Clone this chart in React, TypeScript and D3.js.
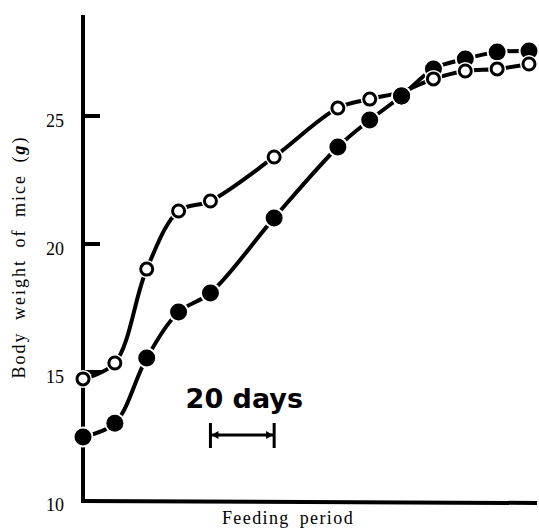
import React from "react";
import * as d3 from "d3";

const days = [0, 10, 20, 30, 40, 60, 80, 90, 100, 110, 120, 130, 140];
const openSeries = [14.73, 15.35, 19.02, 21.29, 21.68, 23.4, 25.31, 25.66, 25.94, 26.45, 26.76, 26.84, 27.03];
const filledSeries = [12.46, 13.0, 15.55, 17.34, 18.09, 21.02, 23.79, 24.84, 25.78, 26.84, 27.23, 27.5, 27.54];
const yTicks = [10, 15, 20, 25];
const scaleBarDays = [40, 60];
const scaleBarLabel = "20 days";
const xLabel = "Feeding period";

const W = 539;
const H = 532;

export default function App() {
  const x = d3.scaleLinear().domain([0, 140]).range([83, 529]);
  const y = d3.scaleLinear().domain([10, 25]).range([500, 116]);
  const line = d3
    .line<number>()
    .x((_, i) => x(days[i]))
    .y((v) => y(v))
    .curve(d3.curveCatmullRom.alpha(0.5));

  const bx0 = x(scaleBarDays[0]);
  const bx1 = x(scaleBarDays[1]);
  const by = 435;

  return (
    <svg
      width={W}
      height={H}
      style={{ position: "absolute", left: 0, top: 0, background: "#fff" }}
    >
      <rect x={0} y={0} width={W} height={H} fill="#fff" />
      {/* axes */}
      <line x1={83} y1={15} x2={83} y2={502} stroke="#000" strokeWidth={4} />
      <line x1={81} y1={501} x2={537} y2={503} stroke="#000" strokeWidth={4} />
      {yTicks.map((t) => (
        <g key={t}>
          {t !== 10 && (
            <line x1={83} x2={t === 15 ? 102 : 100} y1={y(t)} y2={y(t)} stroke="#000" strokeWidth={4} />
          )}
          <text
            x={64}
            y={y(t) + 11}
            textAnchor="end"
            fontFamily="Liberation Serif"
            fontSize={18}
            fill="#000"
          >
            {t}
          </text>
        </g>
      ))}
      {/* y label */}
      <text
        transform={`translate(25,257) rotate(-90)`}
        textAnchor="middle"
        fontFamily="Liberation Serif"
        fontSize={18}
        letterSpacing={2}
        wordSpacing={5}
        fill="#000"
      >
        Body weight of mice (<tspan fontStyle="italic" fontWeight="bold">g</tspan>)
      </text>
      {/* x label */}
      <text
        x={288}
        y={524}
        textAnchor="middle"
        fontFamily="Liberation Serif"
        fontSize={18}
        letterSpacing={1.4}
        wordSpacing={4}
        fill="#000"
      >
        {xLabel}
      </text>
      {/* series lines */}
      <path d={line(openSeries) || ""} fill="none" stroke="#000" strokeWidth={4} />
      <path d={line(filledSeries) || ""} fill="none" stroke="#000" strokeWidth={4} />
      {/* markers */}
      {filledSeries.map((v, i) => (
        <g key={"f" + i}>
          <circle cx={x(days[i])} cy={y(v)} r={10.5} fill="#fff" />
          <circle cx={x(days[i])} cy={y(v)} r={8.5} fill="#000" />
        </g>
      ))}
      {openSeries.map((v, i) =>
        i === 8 ? null : (
          <g key={"o" + i}>
            <circle cx={x(days[i])} cy={y(v)} r={9} fill="#fff" />
            <circle cx={x(days[i])} cy={y(v)} r={6} fill="#fff" stroke="#000" strokeWidth={3} />
          </g>
        )
      )}
      <circle cx={x(days[8])} cy={y(filledSeries[8])} r={8.5} fill="#000" />
      {/* scale bar */}
      <text
        x={(bx0 + bx1) / 2 + 2}
        y={408}
        textAnchor="middle"
        fontFamily="DejaVu Sans"
        fontWeight="bold"
        fontSize={27}
        fill="#000"
      >
        {scaleBarLabel}
      </text>
      <line x1={bx0} x2={bx1} y1={by} y2={by} stroke="#000" strokeWidth={3} />
      <line x1={bx0} x2={bx0} y1={423} y2={448} stroke="#000" strokeWidth={3} />
      <line x1={bx1} x2={bx1} y1={423} y2={448} stroke="#000" strokeWidth={3} />
      <path d={`M${bx0 + 1},${by} L${bx0 + 8},${by - 4} L${bx0 + 8},${by + 4} Z`} fill="#000" />
      <path d={`M${bx1 - 1},${by} L${bx1 - 8},${by - 4} L${bx1 - 8},${by + 4} Z`} fill="#000" />
    </svg>
  );
}
